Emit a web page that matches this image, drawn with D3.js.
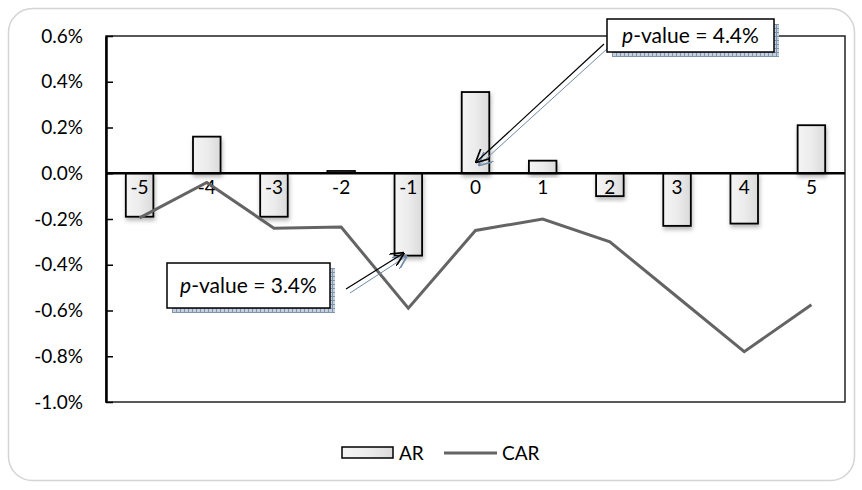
<!DOCTYPE html>
<html><head><meta charset="utf-8">
<script src="https://cdn.jsdelivr.net/npm/d3@7"></script>
<style>body{margin:0;background:#fff}svg{display:block}text{font-family:Lato,"Open Sans",sans-serif}</style>
</head><body><svg id="c" width="862" height="490"></svg>
<script>
const categories = ["-5","-4","-3","-2","-1","0","1","2","3","4","5"];
const arValues = [-0.0019,0.0016,-0.0019,0.0001,-0.0036,0.00355,0.00055,-0.0010,-0.0023,-0.0022,0.0021];
const carValues = [-0.00195,-0.0004,-0.0024,-0.00235,-0.0059,-0.0025,-0.0020,-0.0030,-0.0054,-0.0078,-0.00575];
const yTicks = [0.006,0.004,0.002,0,-0.002,-0.004,-0.006,-0.008,-0.010];
const callouts = [{text:"4.4%"},{text:"3.4%"}];

const svg = d3.select("#c");
const L=106,R=845,T=36,B=402;
const x = d3.scaleBand().domain(categories).range([L,R]).padding(0);
const y = d3.scaleLinear().domain([-0.010,0.006]).range([B,T]);
const fmt = v => d3.format(".1%")(v).replace("\u2212","-");

const defs = svg.append("defs");
const g = defs.append("linearGradient").attr("id","barg").attr("x1",0).attr("x2",1).attr("y1",0).attr("y2",0);
g.append("stop").attr("offset","0%").attr("stop-color","#f4f4f4");
g.append("stop").attr("offset","50%").attr("stop-color","#ececec");
g.append("stop").attr("offset","100%").attr("stop-color","#dadada");
const f = defs.append("filter").attr("id","sh").attr("x","-30%").attr("y","-30%").attr("width","160%").attr("height","160%");
f.append("feDropShadow").attr("dx",1).attr("dy",3).attr("stdDeviation",2).attr("flood-color","#000").attr("flood-opacity",0.28);
const pat = defs.append("pattern").attr("id","hatch").attr("width",4).attr("height",4).attr("patternUnits","userSpaceOnUse");
pat.append("rect").attr("width",4).attr("height",4).attr("fill","#c5d0dc");
pat.append("path").attr("d","M0,0.5H4M0.5,0V4").attr("stroke","#7f95ad").attr("stroke-width",1);
const ah = defs.append("marker").attr("id","ah").attr("viewBox","0 0 10 10").attr("refX",9).attr("refY",5)
  .attr("markerWidth",14).attr("markerHeight",14).attr("markerUnits","userSpaceOnUse").attr("orient","auto");
ah.append("path").attr("d","M0,0L10,5L0,10").attr("fill","none").attr("stroke","#000").attr("stroke-width",1.2);
const ah2 = defs.append("marker").attr("id","ah2").attr("viewBox","0 0 10 10").attr("refX",9).attr("refY",5)
  .attr("markerWidth",14).attr("markerHeight",14).attr("markerUnits","userSpaceOnUse").attr("orient","auto");
ah2.append("path").attr("d","M0,0L10,5L0,10").attr("fill","none").attr("stroke","#6f8aa8").attr("stroke-width",1.2);

// outer frame
svg.append("rect").attr("x",8.5).attr("y",8.5).attr("width",846).attr("height",472).attr("rx",24)
  .attr("fill","#fff").attr("stroke","#d4d4d4").attr("stroke-width",1.5);

// plot border
svg.append("rect").attr("x",L).attr("y",T).attr("width",R-L).attr("height",B-T)
  .attr("fill","none").attr("stroke","#222").attr("stroke-width",1.5);

// y axis
const ya = svg.append("g").attr("transform",`translate(${L},0)`)
  .call(d3.axisLeft(y).tickValues(yTicks).tickFormat(fmt).tickSizeInner(-7).tickSizeOuter(0).tickPadding(23));
ya.select(".domain").attr("stroke","#000").attr("stroke-width",2.5);
ya.selectAll(".tick line").attr("stroke","#000").attr("stroke-width",1.5);
ya.selectAll(".tick text").attr("font-size",19).attr("fill","#000");

// bars
svg.append("g").selectAll("rect").data(arValues).join("rect")
  .attr("x",(d,i)=>x(categories[i])+x.bandwidth()*0.295)
  .attr("width",x.bandwidth()*0.41)
  .attr("y",d=>y(Math.max(0,d)))
  .attr("height",d=>Math.abs(y(d)-y(0)))
  .attr("fill","url(#barg)").attr("stroke","#000").attr("stroke-width",1.8)
  .attr("filter","url(#sh)");

// zero axis
svg.append("line").attr("x1",L).attr("x2",R).attr("y1",y(0)).attr("y2",y(0))
  .attr("stroke","#000").attr("stroke-width",2.5);

// category labels
svg.append("g").selectAll("text").data(categories).join("text")
  .attr("x",d=>x(d)+x.bandwidth()/2).attr("y",y(0)+21)
  .attr("text-anchor","middle").attr("font-size",19).attr("fill","#000").text(d=>d);

// CAR line
const line = d3.line().x((d,i)=>x(categories[i])+x.bandwidth()/2).y(d=>y(d));
svg.append("path").datum(carValues).attr("d",line).attr("fill","none")
  .attr("stroke","#646464").attr("stroke-width",3).attr("stroke-linejoin","miter");

// callouts
function callout(bx,by,bw,bh,txt,ax1,ay1,ax2,ay2){
  svg.append("line").attr("x1",ax1+4).attr("y1",ay1+4).attr("x2",ax2+3).attr("y2",ay2+3)
    .attr("stroke","#6f8aa8").attr("stroke-width",1).attr("marker-end","url(#ah2)");
  svg.append("line").attr("x1",ax1).attr("y1",ay1).attr("x2",ax2).attr("y2",ay2)
    .attr("stroke","#000").attr("stroke-width",1.2).attr("marker-end","url(#ah)");
  svg.append("rect").attr("x",bx+5).attr("y",by+5).attr("width",bw).attr("height",bh).attr("fill","url(#hatch)");
  svg.append("rect").attr("x",bx).attr("y",by).attr("width",bw).attr("height",bh)
    .attr("fill","#fff").attr("stroke","#000").attr("stroke-width",1.5);
  const t = svg.append("text").attr("x",bx+bw/2).attr("y",by+bh/2+7).attr("text-anchor","middle")
    .attr("font-size",21).attr("fill","#000");
  t.append("tspan").attr("font-style","italic").text("p");
  t.append("tspan").text("-value = "+txt);
}
const c0 = x("0")+x.bandwidth()/2, cm1 = x("-1")+x.bandwidth()/2;
callout(607,19,167,33,callouts[0].text,604,44,c0+1,y(0.0005));
callout(167,263,163,45,callouts[1].text,346,289,cm1-5,y(-0.0035));

// legend
const lg = svg.append("g");
lg.append("rect").attr("x",342).attr("y",447).attr("width",51).attr("height",11)
  .attr("fill","url(#barg)").attr("stroke","#000").attr("stroke-width",1.5);
lg.append("text").attr("x",399).attr("y",460).attr("font-size",19).text("AR");
lg.append("line").attr("x1",444).attr("x2",497).attr("y1",453).attr("y2",453).attr("stroke","#646464").attr("stroke-width",3);
lg.append("text").attr("x",502).attr("y",460).attr("font-size",19).text("CAR");
</script></body></html>
